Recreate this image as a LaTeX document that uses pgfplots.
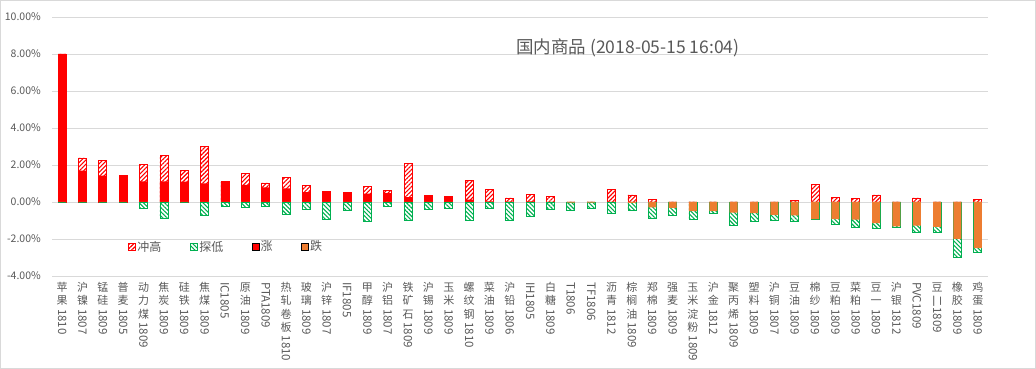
\documentclass[border=0pt]{standalone}
\usepackage{fontspec}
\setmainfont{Noto Sans CJK SC}
\usepackage{graphicx}
\usepackage{pgfplots}
\pgfplotsset{compat=1.18}
\usepackage{pgfplotstable}
\usetikzlibrary{patterns.meta}
\definecolor{txtgray}{HTML}{595959}
\definecolor{gridgray}{HTML}{D9D9D9}
\definecolor{upred}{HTML}{FF0000}
\definecolor{lowgreen}{HTML}{00B050}
\definecolor{dnorange}{HTML}{ED7D31}

\pgfplotstableread{
i high low up dn
0 8.00 0.00 8.00 0
1 2.38 0.00 1.69 0
2 2.23 0.00 1.42 0
3 1.42 0.00 1.42 0
4 2.05 -0.32 1.12 0
5 2.52 -0.88 1.12 0
6 1.69 0.00 1.10 0
7 3.01 -0.74 1.01 0
8 1.10 -0.25 1.08 0
9 1.53 -0.27 0.92 0
10 1.03 -0.22 0.79 0
11 1.32 -0.67 0.74 0
12 0.90 -0.40 0.54 0
13 0.56 -0.95 0.56 0
14 0.52 -0.45 0.52 0
15 0.83 -1.06 0.45 0
16 0.61 -0.22 0.48 0
17 2.07 -0.99 0.27 0
18 0.34 -0.40 0.34 0
19 0.31 -0.32 0.31 0
20 1.17 -1.01 0.13 0
21 0.70 -0.32 0.03 0
22 0.22 -1.01 0.02 0
23 0.43 -0.77 0.03 0
24 0.29 -0.38 0.00 0
25 0.00 -0.47 0 -0.03
26 0.00 -0.32 0 -0.03
27 0.70 -0.59 0.00 0
28 0.38 -0.43 0 -0.05
29 0.14 -0.88 0 -0.29
30 0.00 -0.70 0 -0.32
31 0.00 -0.95 0 -0.49
32 0.00 -0.61 0 -0.50
33 0.00 -1.29 0 -0.58
34 0.00 -1.04 0 -0.60
35 0.00 -1.01 0 -0.70
36 0.07 -1.07 0 -0.72
37 0.97 -0.92 0 -0.92
38 0.27 -1.19 0 -0.92
39 0.20 -1.37 0 -0.95
40 0.38 -1.41 0 -1.14
41 0.00 -1.37 0 -1.32
42 0.22 -1.64 0 -1.28
43 0.00 -1.64 0 -1.35
44 0.00 -2.99 0 -2.00
45 0.16 -2.70 0 -2.49
}\data

\newcommand\vl[2]{\begin{tabular}[t]{@{}c@{}}#1\\[-9bp]{\fontsize{11.5bp}{13.3bp}\selectfont\rotatebox{-90}{#2}}\end{tabular}}
\newcommand\vr[1]{{\fontsize{11.5bp}{13.3bp}\selectfont\rotatebox{-90}{#1}}}
\newcommand\gap{\rule{27bp}{0pt}}

\pgfplotsset{
  sq legend/.style={legend image code/.code={\draw[##1] (0bp,-3.5bp) rectangle (7bp,3.5bp);}},
  hatchred/.style={draw=upred, line width=0.8bp, fill=white,
     postaction={pattern={Lines[angle=45,distance=3bp,line width=1.1bp]}, pattern color=upred}},
  hatchgreen/.style={draw=lowgreen, line width=0.8bp, fill=white,
     postaction={pattern={Lines[angle=-45,distance=3bp,line width=1.1bp]}, pattern color=lowgreen}},
}

\begin{document}
\begin{tikzpicture}
\useasboundingbox (0,0) rectangle (1036bp,369bp);
\draw[gridgray, line width=1bp] (0.5bp,0.5bp) rectangle (1035.5bp,368.5bp);
\begin{axis}[
  at={(52bp,93bp)}, anchor=south west,
  scale only axis, width=936bp, height=259bp,
  xmin=-0.5, xmax=45.5, ymin=-4, ymax=10,
  ytick={-4,-2,0,2,4,6,8,10},
  yticklabels={-4.00\%,-2.00\%,0.00\%,2.00\%,4.00\%,6.00\%,8.00\%,10.00\%},
  xtick={0,...,45},
  xticklabels={
   {\vl{苹\\果}{1810}},{\vl{沪\\镍}{1807}},{\vl{锰\\硅}{1809}},{\vl{普\\麦}{1805}},
   {\vl{动\\力\\煤}{1809}},{\vl{焦\\炭}{1809}},{\vl{硅\\铁}{1809}},{\vl{焦\\煤}{1809}},
   {\vr{IC1805}},{\vl{原\\油}{1809}},{\vr{PTA1809}},{\vl{热\\轧\\卷\\板}{1810}},
   {\vl{玻\\璃}{1809}},{\vl{沪\\锌}{1807}},{\vr{IF1805}},{\vl{甲\\醇}{1809}},
   {\vl{沪\\铝}{1807}},{\vl{铁\\矿\\石}{1809}},{\vl{沪\\锡}{1809}},{\vl{玉\\米}{1809}},
   {\vl{螺\\纹\\钢}{1810}},{\vl{菜\\油}{1809}},{\vl{沪\\铅}{1806}},{\vr{IH1805}},
   {\vl{白\\糖}{1809}},{\vr{T1806}},{\vr{TF1806}},{\vl{沥\\青}{1812}},
   {\vl{棕\\榈\\油}{1809}},{\vl{郑\\棉}{1809}},{\vl{强\\麦}{1809}},{\vl{玉\\米\\淀\\粉}{1809}},
   {\vl{沪\\金}{1812}},{\vl{聚\\丙\\烯}{1809}},{\vl{塑\\料}{1809}},{\vl{沪\\铜}{1807}},
   {\vl{豆\\油}{1809}},{\vl{棉\\纱}{1809}},{\vl{豆\\粕}{1809}},{\vl{菜\\粕}{1809}},
   {\vl{豆\\一}{1809}},{\vl{沪\\银}{1812}},{\vr{PVC1809}},{\vl{豆}{二1809}},
   {\vl{橡\\胶}{1809}},{\vl{鸡\\蛋}{1809}}},
  ymajorgrids, grid style={gridgray, line width=0.8bp},
  axis line style={draw=none}, major tick length=0pt,
  yticklabel style={font=\fontsize{10.5bp}{12bp}\selectfont, text=txtgray, anchor=east, inner sep=0pt, xshift=-11bp},
  xticklabel style={font=\fontsize{11bp}{13.3bp}\selectfont, text=txtgray, anchor=north, inner sep=0pt, yshift=-6bp},
  legend columns=4,
  legend style={at={(0.078,0.113)}, anchor=west, draw=none, fill=none,
    font=\fontsize{12bp}{14bp}\selectfont, text=txtgray,
    column sep=0pt, nodes={inner sep=1.5bp}},
  legend cell align=left,
]
\addplot[ybar, bar width=8bp, bar shift=0pt, hatchred, sq legend] table[x=i,y=high]{\data};
\addlegendentry{冲高\gap}
\addplot[ybar, bar width=8bp, bar shift=0pt, hatchgreen, sq legend] table[x=i,y=low]{\data};
\addlegendentry{探低\gap}
\addplot[ybar, bar width=8bp, bar shift=0pt, draw=none, fill=upred, sq legend] table[x=i,y=up]{\data};
\addlegendentry{涨\gap}
\addplot[ybar, bar width=8bp, bar shift=0pt, draw=none, fill=dnorange, sq legend] table[x=i,y=dn]{\data};
\addlegendentry{跌}
\end{axis}
\node[text=txtgray, font=\fontsize{17.5bp}{20bp}\selectfont] at (628bp,321bp) {国内商品 (2018-05-15 16:04)};
\end{tikzpicture}
\end{document}
